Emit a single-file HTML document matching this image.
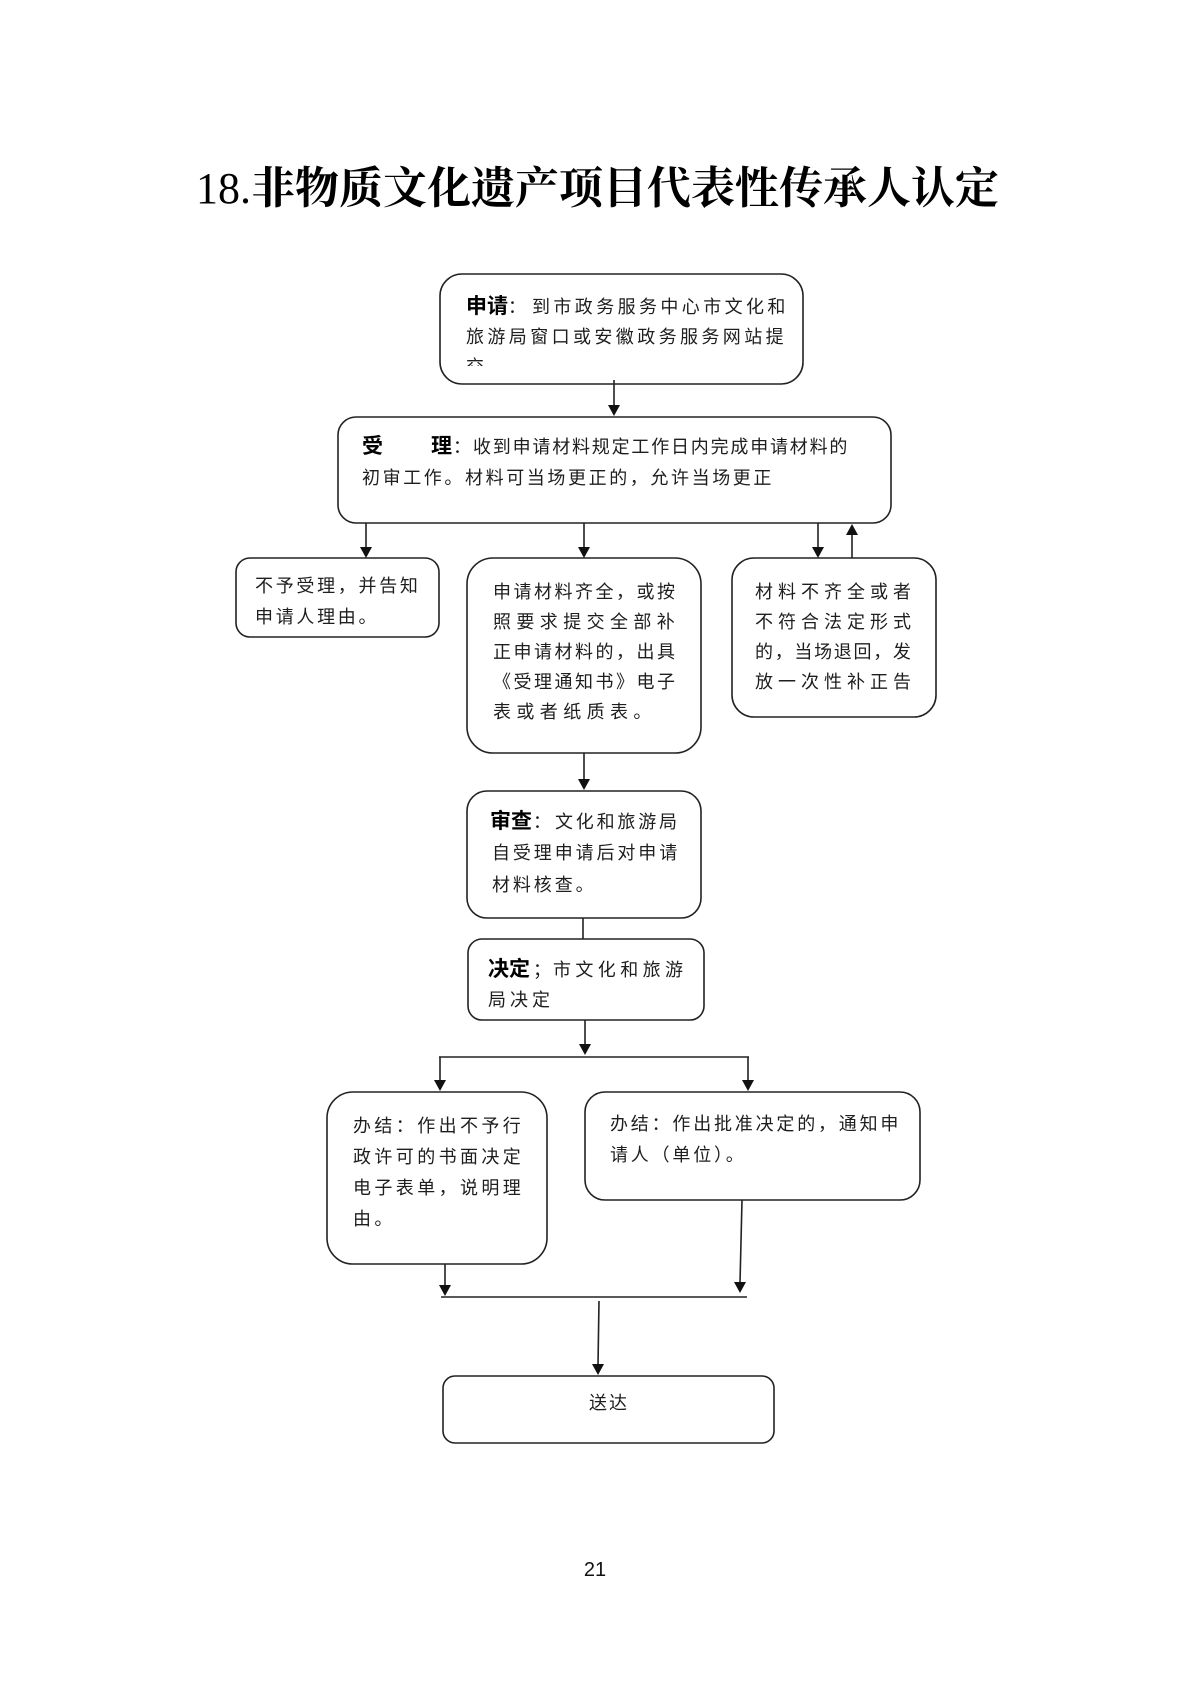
<!DOCTYPE html>
<html><head><meta charset="utf-8">
<style>
html,body{margin:0;padding:0;background:#fff;}
#p{position:relative;width:1190px;height:1683px;overflow:hidden;background:#fff;}
svg{position:absolute;left:0;top:0;}
.t{position:absolute;white-space:nowrap;font-family:"Liberation Sans","Noto Sans CJK SC",sans-serif;font-size:18px;line-height:30px;color:#1e1e1e;}
.b{position:absolute;white-space:nowrap;font-family:"Liberation Sans","Noto Sans CJK SC",sans-serif;font-size:21px;line-height:30px;font-weight:700;color:#000;}
.title{position:absolute;left:196px;top:162px;white-space:nowrap;font-family:"Liberation Serif","Noto Serif CJK SC",serif;font-size:44px;line-height:54px;font-weight:700;color:#000;}
</style></head><body><div id="p">
<svg width="1190" height="1683" viewBox="0 0 1190 1683">
<g fill="none" stroke="#222" stroke-width="1.6">
<rect x="440" y="274" width="363" height="110" rx="22"/>
<rect x="338" y="417" width="553" height="106" rx="18"/>
<rect x="236" y="558" width="203" height="79" rx="14"/>
<rect x="467" y="558" width="234" height="195" rx="26"/>
<rect x="732" y="558" width="204" height="159" rx="22"/>
<rect x="467" y="791" width="234" height="127" rx="20"/>
<rect x="468" y="939" width="236" height="81" rx="14"/>
<rect x="327" y="1092" width="220" height="172" rx="26"/>
<rect x="585" y="1092" width="335" height="108" rx="20"/>
<rect x="443" y="1376" width="331" height="67" rx="12"/>
<line x1="614" y1="380" x2="614" y2="406"/>
<line x1="366" y1="523" x2="366" y2="548"/>
<line x1="584" y1="523" x2="584" y2="548"/>
<line x1="818" y1="523" x2="818" y2="548"/>
<line x1="852" y1="558" x2="852" y2="534"/>
<line x1="584" y1="753" x2="584" y2="780"/>
<line x1="583" y1="918" x2="583" y2="939"/>
<line x1="585" y1="1020" x2="585" y2="1045"/>
<line x1="439" y1="1057" x2="749" y2="1057"/>
<line x1="440" y1="1057" x2="440" y2="1081"/>
<line x1="748" y1="1057" x2="748" y2="1081"/>
<line x1="445" y1="1264" x2="445" y2="1286"/>
<line x1="742" y1="1200" x2="740" y2="1283"/>
<line x1="441" y1="1297" x2="747" y2="1297"/>
<line x1="599" y1="1301" x2="598" y2="1365"/>
</g>
<g fill="#111">
<polygon points="608,405 620,405 614,416"/>
<polygon points="360,547 372,547 366,558"/>
<polygon points="578,547 590,547 584,558"/>
<polygon points="812,547 824,547 818,558"/>
<polygon points="846,535 858,535 852,524"/>
<polygon points="578,779 590,779 584,790"/>
<polygon points="579,1044 591,1044 585,1055"/>
<polygon points="434,1080 446,1080 440,1091"/>
<polygon points="742,1080 754,1080 748,1091"/>
<polygon points="439,1285 451,1285 445,1296"/>
<polygon points="734,1282 746,1282 740,1293"/>
<polygon points="592,1364 604,1364 598,1375"/>
</g>
</svg>

<div class="title"><span style="font-weight:400">18.</span>非物质文化遗产项目代表性传承人认定</div>

<div class="b" style="left:466px;top:292px;">申请</div>
<div class="t" style="left:508px;top:292px;">：</div>
<div class="t" style="left:532px;top:292px;letter-spacing:3.4px;">到市政务服务中心市文化和</div>
<div class="t" style="left:466px;top:322px;letter-spacing:3.4px;">旅游局窗口或安徽政务服务网站提</div>
<div style="position:absolute;left:466px;top:352px;width:40px;height:14px;overflow:hidden;">
<div class="t" style="left:0;top:0;">交</div></div>

<div class="b" style="left:362px;top:432px;">受</div>
<div class="b" style="left:431px;top:432px;">理</div>
<div class="t" style="left:453px;top:432px;">：</div>
<div class="t" style="left:473px;top:432px;letter-spacing:1.8px;">收到申请材料规定工作日内完成申请材料的</div>
<div class="t" style="left:362px;top:463px;letter-spacing:2.6px;">初审工作。材料可当场更正的，允许当场更正</div>

<div class="t" style="left:255px;top:571px;letter-spacing:2.7px;">不予受理，并告知</div>
<div class="t" style="left:255px;top:602px;letter-spacing:2.7px;">申请人理由。</div>

<div class="t" style="left:493px;top:577px;letter-spacing:2.5px;">申请材料齐全，或按</div>
<div class="t" style="left:493px;top:607px;letter-spacing:5.4px;">照要求提交全部补</div>
<div class="t" style="left:493px;top:637px;letter-spacing:2.5px;">正申请材料的，出具</div>
<div class="t" style="left:493px;top:667px;letter-spacing:2.5px;">《受理通知书》电子</div>
<div class="t" style="left:493px;top:697px;letter-spacing:5.4px;">表或者纸质表。</div>

<div class="t" style="left:755px;top:577px;letter-spacing:5px;">材料不齐全或者</div>
<div class="t" style="left:755px;top:607px;letter-spacing:5px;">不符合法定形式</div>
<div class="t" style="left:755px;top:637px;letter-spacing:1.7px;">的，当场退回，发</div>
<div class="t" style="left:755px;top:667px;letter-spacing:5px;">放一次性补正告</div>

<div class="b" style="left:490px;top:807px;">审查</div>
<div class="t" style="left:533px;top:807px;">：</div>
<div class="t" style="left:555px;top:807px;letter-spacing:2.8px;">文化和旅游局</div>
<div class="t" style="left:492px;top:838px;letter-spacing:2.9px;">自受理申请后对申请</div>
<div class="t" style="left:492px;top:870px;letter-spacing:2.9px;">材料核查。</div>

<div class="b" style="left:488px;top:955px;">决定</div>
<div class="t" style="left:533px;top:955px;">；</div>
<div class="t" style="left:553px;top:955px;letter-spacing:4.4px;">市文化和旅游</div>
<div class="t" style="left:488px;top:985px;letter-spacing:4px;">局决定</div>

<div class="t" style="left:353px;top:1111px;letter-spacing:3.4px;">办结：作出不予行</div>
<div class="t" style="left:353px;top:1142px;letter-spacing:3.4px;">政许可的书面决定</div>
<div class="t" style="left:353px;top:1173px;letter-spacing:3.4px;">电子表单，说明理</div>
<div class="t" style="left:353px;top:1204px;letter-spacing:3.4px;">由。</div>

<div class="t" style="left:610px;top:1109px;letter-spacing:2.8px;">办结：作出批准决定的，通知申</div>
<div class="t" style="left:610px;top:1140px;letter-spacing:2.8px;">请人（单位）。</div>

<div class="t" style="left:589px;top:1388px;letter-spacing:2px;">送达</div>

<div style="position:absolute;left:575px;top:1556px;width:40px;text-align:center;font-family:'Liberation Sans',sans-serif;font-size:20px;line-height:28px;color:#111;">21</div>
</div></body></html>
